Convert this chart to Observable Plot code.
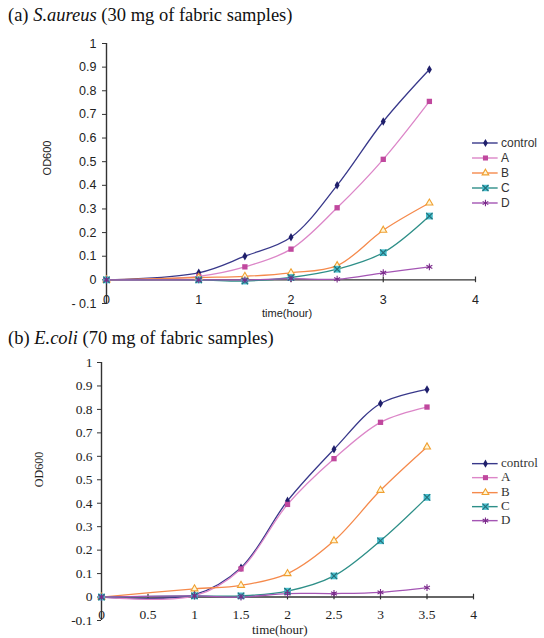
<!DOCTYPE html>
<html><head><meta charset="utf-8">
<script src="https://cdn.jsdelivr.net/npm/d3@7"></script>
<script src="https://cdn.jsdelivr.net/npm/@observablehq/plot@0.6"></script>
<style>
body{margin:0;background:#fff;}
#wrap{position:relative;width:544px;height:638px;overflow:hidden;background:#fff;}
.abs{position:absolute;white-space:nowrap;}
.title{font-family:"Liberation Serif","Times New Roman",serif;font-size:18.5px;color:#111;}
.leg{position:absolute;left:472px;}
.leg div{display:flex;align-items:center;}
.leg svg{display:block;}
</style></head>
<body><div id="wrap"></div>
<script>
// ---- data ----
const seriesNames = ["control", "A", "B", "C", "D"];
const timesA = [0, 1, 1.5, 2, 2.5, 3, 3.5];
const aControl = [0, 0.03, 0.10, 0.18, 0.40, 0.67, 0.89];
const aA       = [0, 0.015, 0.055, 0.13, 0.305, 0.51, 0.755];
const aB       = [0, 0.01, 0.015, 0.03, 0.06, 0.21, 0.325];
const aC       = [0, 0.0, -0.005, 0.01, 0.045, 0.115, 0.27];
const aD       = [0, 0.0, 0.0, 0.005, 0.003, 0.03, 0.055];
const timesB = [0, 1, 1.5, 2, 2.5, 3, 3.5];
const bControl = [0, 0.01, 0.125, 0.41, 0.63, 0.825, 0.885];
const bA       = [0, 0.005, 0.12, 0.395, 0.59, 0.745, 0.81];
const bB       = [0, 0.035, 0.05, 0.10, 0.24, 0.455, 0.64];
const bC       = [0, 0.005, 0.005, 0.025, 0.09, 0.24, 0.425];
const bD       = [0, 0.005, 0.0, 0.015, 0.015, 0.02, 0.04];
const xTicksA = [0, 1, 2, 3, 4];
const xTicksB = [0, 0.5, 1, 1.5, 2, 2.5, 3, 3.5, 4];
const yTicks = [-0.1, 0, 0.1, 0.2, 0.3, 0.4, 0.5, 0.6, 0.7, 0.8, 0.9, 1];
const titleA = ["(a) ", "S.aureus", " (30 mg of fabric samples)"];
const titleB = ["(b) ", "E.coli", " (70 mg of fabric samples)"];
const yLabel = "OD600";
const xLabel = "time(hour)";

// ---- styles ----
const lineColors = ["#38388a", "#dc86c8", "#f58a4c", "#2e8f88", "#a455b4"];
const markColors = ["#1f1f6b", "#c0489e", "#f0a030", "#46c0cf", "#7a2a8a"];

function longData(times, arrs) {
  return seriesNames.flatMap((s, i) => times.map((t, j) => ({series: s, t, v: arrs[i][j]})));
}

function markerMarks(d, i, scale) {
  const k = scale || 1;
  const o = {x: "t", y: "v"};
  if (i === 0) return [Plot.dot(d, {...o, symbol: "diamond", r: 2.6 * k, fill: markColors[0], stroke: "none"})];
  if (i === 1) return [Plot.dot(d, {...o, symbol: "square", r: 3.0 * k, fill: markColors[1], stroke: "none"})];
  if (i === 2) return [Plot.dot(d, {...o, symbol: "triangle", r: 2.6 * k, fill: "#fff6d8", stroke: markColors[2], strokeWidth: 1.1})];
  if (i === 3) return [Plot.dot(d, {...o, symbol: "square", r: 3.8 * k, fill: markColors[3], stroke: "none"}),
                       Plot.dot(d, {...o, symbol: "times", r: 3.0 * k, stroke: "#26707a", strokeWidth: 1.2})];
  return [Plot.dot(d, {...o, symbol: "asterisk", r: 3.2 * k, stroke: markColors[4], strokeWidth: 1.1})];
}

function chart(opts) {
  const data = longData(opts.times, opts.values);
  const f = s => data.filter(d => d.series === s);
  return Plot.plot({
    width: 544, height: opts.height,
    marginTop: opts.mt, marginBottom: opts.mb, marginLeft: opts.ml, marginRight: opts.mr,
    x: {domain: [0, 4], axis: null},
    y: {domain: [-0.1, 1], axis: null},
    color: {domain: seriesNames, range: lineColors},
    style: {fontFamily: opts.font, fontSize: opts.fontSize + "px", color: "#222", background: "transparent", overflow: "visible"},
    marks: [
      Plot.axisY({ticks: yTicks, tickSize: 4, tickPadding: opts.tp, tickFormat: opts.yfmt, label: null, stroke: "#333", letterSpacing: opts.ls + "px"}),
      Plot.ruleX([0], {y1: -0.1, y2: 1, stroke: "#333", strokeWidth: 1.4}),
      Plot.ruleY([0], {x1: 0, x2: 4, stroke: "#333", strokeWidth: 1.4}),
      Plot.ruleX(opts.xticks, {x: d => d, y1: -0.012, y2: 0.012, stroke: "#333", strokeWidth: 1.2}),
      Plot.text(opts.xticks, {x: d => d, y: 0, dy: opts.xdy, text: d => String(d), fill: "#222", letterSpacing: (opts.ls * 0.6) + "px"}),
      Plot.line(data, {x: "t", y: "v", z: "series", stroke: "series", curve: "catmull-rom", strokeWidth: 1.3}),
      ...seriesNames.flatMap((s, i) => markerMarks(f(s), i))
    ]
  });
}

const wrap = document.getElementById("wrap");
function addAbs(el, left, top) { el.classList.add("abs"); el.style.left = left + "px"; el.style.top = top + "px"; wrap.appendChild(el); return el; }
function titleEl(parts, top) {
  const d = document.createElement("div"); d.className = "title";
  d.innerHTML = parts[0] + "<i>" + parts[1] + "</i>" + parts[2];
  return addAbs(d, 8, top);
}
function legend(top, font, fontSize, spacing) {
  const L = document.createElement("div"); L.className = "leg"; L.style.top = top + "px";
  L.style.fontFamily = font; L.style.fontSize = fontSize + "px"; L.style.color = "#333";
  seriesNames.forEach((s, i) => {
    const row = document.createElement("div"); row.style.height = spacing + "px";
    const sw = Plot.plot({
      width: 27, height: spacing, margin: 0, x: {domain: [0, 1], axis: null}, y: {domain: [0, 1], axis: null},
      style: {background: "transparent", overflow: "visible"},
      marks: [
        Plot.ruleY([0.5], {x1: 0, x2: 0.95, stroke: lineColors[i], strokeWidth: 1.4}),
        ...markerMarks([{t: 0.48, v: 0.5}], i, 0.95)
      ]
    });
    sw.style.marginRight = "2px";
    const t = document.createElement("span"); t.textContent = s;
    row.appendChild(sw); row.appendChild(t); L.appendChild(row);
  });
  wrap.appendChild(L);
}

// chart (a)
titleEl(titleA, 5);
const c1 = chart({times: timesA, values: [aControl, aA, aB, aC, aD], height: 292, mt: 13, mb: 19, ml: 106, mr: 69,
  font: '"Liberation Sans", Arial, sans-serif', fontSize: 12.5, tp: 6, xdy: 20, xticks: xTicksA, ls: 1,
  yfmt: d => d < 0 ? "- " + Math.abs(d) : String(d)});
addAbs(c1, 0, 30);
const yl1 = document.createElement("div"); yl1.textContent = yLabel;
yl1.style.cssText = 'font-family:"Liberation Sans",Arial,sans-serif;font-size:11px;color:#222;transform:rotate(-90deg);transform-origin:center;';
addAbs(yl1, 30, 152);
const xl1 = document.createElement("div"); xl1.textContent = xLabel;
xl1.style.cssText = 'font-family:"Liberation Sans",Arial,sans-serif;font-size:11px;color:#222;';
addAbs(xl1, 262, 307);
legend(135, '"Liberation Sans", Arial, sans-serif', 12, 15);

// chart (b)
titleEl(titleB, 328);
const c2 = chart({times: timesB, values: [bControl, bA, bB, bC, bD], height: 288, mt: 12, mb: 18, ml: 101, mr: 71,
  font: '"Liberation Serif", "Times New Roman", serif', fontSize: 13.5, tp: 5, xdy: 18, xticks: xTicksB, ls: 1.5,
  yfmt: d => String(d)});
addAbs(c2, 0, 350);
const yl2 = document.createElement("div"); yl2.textContent = yLabel;
yl2.style.cssText = 'font-family:"Liberation Serif","Times New Roman",serif;font-size:12px;color:#222;transform:rotate(-90deg);transform-origin:center;';
addAbs(yl2, 22, 462);
const xl2 = document.createElement("div"); xl2.textContent = xLabel;
xl2.style.cssText = 'font-family:"Liberation Serif","Times New Roman",serif;font-size:13px;color:#222;';
addAbs(xl2, 252, 622);
legend(456, '"Liberation Serif", "Times New Roman", serif', 13, 14.3);
</script></body></html>
